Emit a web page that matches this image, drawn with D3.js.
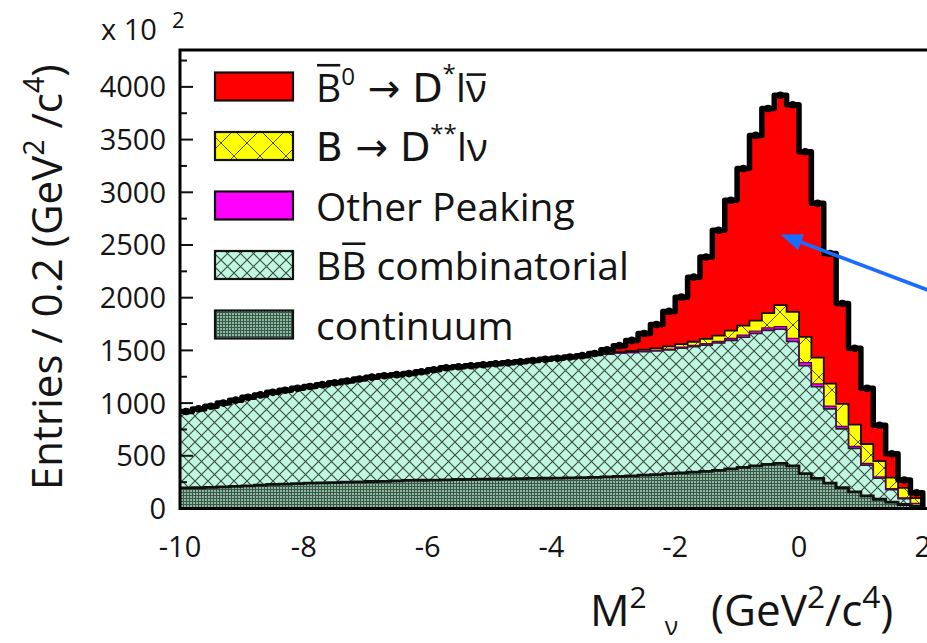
<!DOCTYPE html>
<html>
<head>
<meta charset="utf-8">
<script src="https://cdn.jsdelivr.net/npm/d3@7"></script>
<style>
  html, body { margin: 0; padding: 0; background: #ffffff; }
  svg { display: block; }
  text { font-family: "Open Sans", "Noto Sans", "DejaVu Sans", sans-serif; fill: #141414; white-space: pre; }
</style>
</head>
<body>
<svg id="chart" width="927" height="643"></svg>
<script>
// ---- Histogram bins: 60 bins of 0.2 GeV^2/c^4 from -10 to 2 ----
const binWidth = 0.2;
const binLow = d3.range(60).map(i => +(-10 + i * binWidth).toFixed(1));

// Observed entries per bin
const dataCounts = [
  920, 945, 970, 1000, 1028, 1055, 1078, 1102, 1122, 1140,
  1158, 1175, 1193, 1210, 1228, 1246, 1260, 1270, 1280, 1298,
  1316, 1335, 1345, 1355, 1364, 1373, 1382, 1392, 1403, 1415,
  1425, 1437, 1450, 1470, 1505, 1545, 1595, 1660, 1745, 1870,
  2005, 2195, 2385, 2640, 2925, 3225, 3540, 3795, 3920, 3830,
  3385, 2895, 2420, 1945, 1520, 1140, 790, 520, 270, 150
];

// Fit components (stacked bottom to top)
const continuum = [
  195, 197, 200, 205, 210, 215, 222, 228, 232, 236,
  240, 243, 246, 250, 252, 256, 258, 262, 266, 268,
  270, 272, 275, 276, 278, 280, 282, 284, 286, 287,
  288, 290, 292, 296, 300, 305, 310, 316, 322, 330,
  338, 345, 352, 362, 375, 390, 405, 418, 428, 405,
  330, 285, 240, 198, 158, 120, 88, 60, 38, 20
];
const bbCombinatorial = [
  725, 748, 770, 795, 818, 840, 856, 874, 890, 904,
  918, 932, 947, 960, 976, 990, 1002, 1008, 1014, 1030,
  1046, 1063, 1070, 1079, 1086, 1093, 1100, 1108, 1117, 1128,
  1137, 1147, 1158, 1159, 1165, 1170, 1170, 1171, 1172, 1175,
  1182, 1190, 1198, 1208, 1220, 1235, 1255, 1272, 1272, 1180,
  1025, 870, 705, 557, 412, 291, 199, 118, 56, 25
];
const otherPeaking = [
  0, 0, 0, 0, 0, 0, 0, 0, 0, 0,
  0, 0, 0, 0, 0, 0, 0, 0, 0, 0,
  0, 0, 0, 0, 0, 0, 0, 0, 0, 0,
  0, 0, 0, 0, 0, 0, 0, 3, 6, 8,
  10, 12, 14, 16, 18, 20, 22, 24, 25, 30,
  29, 27, 25, 23, 20, 16, 13, 10, 6, 3
];
const dssLnu = [
  0, 0, 0, 0, 0, 0, 0, 0, 0, 0,
  0, 0, 0, 0, 0, 0, 0, 0, 0, 0,
  0, 0, 0, 0, 0, 0, 0, 0, 0, 0,
  0, 0, 0, 3, 5, 8, 12, 16, 20, 25,
  30, 35, 45, 55, 75, 90, 100, 140, 205, 250,
  245, 250, 215, 215, 205, 185, 150, 105, 95, 50
];
const dstarLnu = [
  0, 0, 0, 0, 0, 0, 0, 0, 0, 0,
  0, 0, 0, 0, 0, 0, 0, 0, 0, 0,
  0, 0, 0, 0, 0, 0, 0, 0, 0, 0,
  0, 0, 0, 12, 35, 62, 103, 154, 225, 332,
  445, 613, 776, 999, 1237, 1490, 1758, 1941, 1990, 1965,
  1756, 1463, 1235, 952, 725, 528, 340, 227, 75, 52
];

// Axis ticks
const yTickValues = [0, 500, 1000, 1500, 2000, 2500, 3000, 3500, 4000];
const yMinorValues = [250, 750, 1250, 1750, 2250, 2750, 3250, 3750, 4250];
const xTickValues = [-10, -8, -6, -4, -2, 0, 2];

// ---- Layout ----
const svg = d3.select("#chart");
const W = 927, H = 643;
const plot = { left: 180, top: 50, bottom: 508.5 };

const x = d3.scaleLinear().domain([-10, 2.5]).range([plot.left, plot.left + 12.5 * 61.9]);
const y = d3.scaleLinear().domain([0, 4350]).range([plot.bottom, plot.top]);

// ---- Fill patterns ----
const defs = svg.append("defs");

// B-Bbar combinatorial: mint with fine diagonal cross-hatch
const pBB = defs.append("pattern").attr("id", "hatchBB")
  .attr("patternUnits", "userSpaceOnUse").attr("width", 13).attr("height", 13);
pBB.append("rect").attr("width", 13).attr("height", 13).attr("fill", "#bff7e0");
pBB.append("path").attr("d", "M0,0L13,13M13,0L0,13")
  .attr("stroke", "#3a4a43").attr("stroke-width", 1.1).attr("fill", "none");

// B -> D** l nu: yellow with wide cross-hatch
const pY = defs.append("pattern").attr("id", "hatchY")
  .attr("patternUnits", "userSpaceOnUse").attr("width", 26).attr("height", 26);
pY.append("rect").attr("width", 26).attr("height", 26).attr("fill", "#ffff00");
pY.append("path").attr("d", "M0,0L26,26M26,0L0,26")
  .attr("stroke", "#555500").attr("stroke-width", 1).attr("fill", "none");

// continuum: dark green mesh
const pC = defs.append("pattern").attr("id", "meshC")
  .attr("patternUnits", "userSpaceOnUse").attr("width", 3).attr("height", 3);
pC.append("rect").attr("width", 3).attr("height", 3).attr("fill", "#8fb8a1");
pC.append("path").attr("d", "M0,0.5H3M0.5,0V3")
  .attr("stroke", "#3a5848").attr("stroke-width", 1).attr("fill", "none");

defs.append("clipPath").attr("id", "plotClip")
  .append("rect").attr("x", plot.left).attr("y", plot.top)
  .attr("width", W - plot.left + 40).attr("height", plot.bottom - plot.top);

// ---- Stack the components ----
const keys = ["cont", "bb", "other", "dss", "dstar"];
const rows = binLow.map((lo, i) => ({
  lo,
  cont: continuum[i], bb: bbCombinatorial[i], other: otherPeaking[i],
  dss: dssLnu[i], dstar: dstarLnu[i]
}));
const stacked = d3.stack().keys(keys)(rows);

// Expand each bin to its two edges so the area draws as a histogram
function stepPoints(layer) {
  const pts = [];
  layer.forEach(d => {
    pts.push({ x: d.data.lo, y0: d[0], y1: d[1] });
    pts.push({ x: d.data.lo + binWidth, y0: d[0], y1: d[1] });
  });
  return pts;
}
const area = d3.area().x(d => x(d.x)).y0(d => y(d.y0)).y1(d => y(d.y1));
const topLine = d3.line().x(d => x(d.x)).y(d => y(d.y1));

const fills = { cont: "url(#meshC)", bb: "url(#hatchBB)", other: "#ff00ff", dss: "url(#hatchY)", dstar: "#ff0000" };
const edges = { cont: ["#111", 2.8], bb: ["#222", 1.6], other: ["#5a0060", 1.3], dss: ["#111", 1.8], dstar: null };

// x ticks (sit beneath the fills)
const gx = svg.append("g");
gx.selectAll("line.xt").data(xTickValues).join("line")
  .attr("x1", d => x(d)).attr("x2", d => x(d))
  .attr("y1", plot.bottom).attr("y2", plot.bottom - 13)
  .attr("stroke", "#111").attr("stroke-width", 2);

const gPlot = svg.append("g").attr("clip-path", "url(#plotClip)");
stacked.forEach(layer => {
  const pts = stepPoints(layer);
  gPlot.append("path").attr("d", area(pts)).attr("fill", fills[layer.key]).attr("stroke", "none");
});
stacked.forEach(layer => {
  const e = edges[layer.key];
  if (!e) return;
  const pts = stepPoints(layer);
  gPlot.append("path").attr("d", topLine(pts)).attr("fill", "none")
    .attr("stroke", e[0]).attr("stroke-width", e[1]);
});

// Observed data: heavy black histogram outline with markers
const dataPts = [];
binLow.forEach((lo, i) => {
  dataPts.push({ x: lo, y1: dataCounts[i] });
  dataPts.push({ x: lo + binWidth, y1: dataCounts[i] });
});
dataPts.push({ x: binLow[binLow.length - 1] + binWidth, y1: 0 });
gPlot.append("path").attr("d", topLine(dataPts)).attr("fill", "none")
  .attr("stroke", "#000").attr("stroke-width", 5.5).attr("stroke-linejoin", "round");
gPlot.selectAll("circle.pt").data(binLow).join("circle")
  .attr("cx", (d) => x(d + binWidth / 2)).attr("cy", (d, i) => y(dataCounts[i]))
  .attr("r", 3.8).attr("fill", "#000");

// ---- Frame and y axis ticks ----
const gy = svg.append("g");
gy.selectAll("line.maj").data(yTickValues).join("line")
  .attr("x1", plot.left).attr("x2", plot.left + 13)
  .attr("y1", d => y(d)).attr("y2", d => y(d))
  .attr("stroke", "#111").attr("stroke-width", 2);
gy.selectAll("line.min").data(yMinorValues).join("line")
  .attr("x1", plot.left).attr("x2", plot.left + 7)
  .attr("y1", d => y(d)).attr("y2", d => y(d))
  .attr("stroke", "#111").attr("stroke-width", 2);

svg.append("path")
  .attr("d", `M${W + 5},${plot.top}H${plot.left}V${plot.bottom}H${W + 5}`)
  .attr("fill", "none").attr("stroke", "#000").attr("stroke-width", 3);

// tick labels
gy.selectAll("text").data(yTickValues).join("text")
  .attr("x", 166).attr("y", d => y(d) + 10.5)
  .attr("text-anchor", "end").attr("font-size", 29).text(d => d);
gx.selectAll("text").data(xTickValues).join("text")
  .attr("x", d => x(d)).attr("y", 556.5)
  .attr("text-anchor", "middle").attr("font-size", 29).text(d => d);

// ---- Rich text helper: superscripts, subscripts, overlines ----
function richText(parent, px, py, fs, segs, anchor) {
  const t = parent.append("text").attr("x", px).attr("y", py)
    .attr("font-size", fs).attr("text-anchor", anchor || "start");
  let cur = 0, idx = 0;
  const overs = [];
  segs.forEach(s => {
    const target = (s.shift || 0) * fs;
    const ts = t.append("tspan").text(s.t).attr("dy", target - cur);
    if (s.size) ts.attr("font-size", s.size * fs);
    if (s.dx) ts.attr("dx", s.dx);
    if (s.family) ts.attr("font-family", s.family);
    cur = target;
    if (s.over) overs.push({ start: idx, len: s.t.length, lift: s.over });
    idx += s.t.length;
  });
  const node = t.node();
  overs.forEach(o => {
    const a = node.getExtentOfChar(o.start);
    const b = node.getExtentOfChar(o.start + o.len - 1);
    parent.append("line")
      .attr("x1", a.x + 1).attr("x2", b.x + b.width - 1)
      .attr("y1", py - o.lift * fs).attr("y2", py - o.lift * fs)
      .attr("stroke", "#141414").attr("stroke-width", 2.6);
  });
  return t;
}

// ---- Legend ----
const legendItems = [
  { fill: "#ff0000", segs: [
      { t: "B", over: 0.93 }, { t: "0", shift: -0.42, size: 0.62 },
      { t: " → D", family: "DejaVu Sans" }, { t: "*", shift: -0.5, size: 0.62 },
      { t: "l" }, { t: "ν", over: 0.69 } ] },
  { fill: "url(#hatchY)", segs: [
      { t: "B → D", family: "DejaVu Sans" }, { t: "**", shift: -0.5, size: 0.62 },
      { t: "lν" } ] },
  { fill: "#ff00ff", segs: [{ t: "Other Peaking" }] },
  { fill: "url(#hatchBB)", segs: [{ t: "B" }, { t: "B", over: 0.93 }, { t: " combinatorial" }] },
  { fill: "url(#meshC)", segs: [{ t: "continuum" }] }
];
const legendRowY = d3.scalePoint().domain(d3.range(legendItems.length)).range([86.5, 324.5]);
const gLeg = svg.append("g");
legendItems.forEach((item, i) => {
  const cy = legendRowY(i);
  gLeg.append("rect").attr("x", 215).attr("y", cy - 14).attr("width", 78).attr("height", 28)
    .attr("fill", item.fill).attr("stroke", "#111").attr("stroke-width", 2.2);
  richText(gLeg, 316, cy + 15, 39, item.segs);
});

// ---- Axis titles ----
richText(svg, 101, 40, 29, [{ t: "x 10" }]);
richText(svg, 172, 28, 22, [{ t: "2" }]);

const gYT = svg.append("g").attr("transform", "translate(62,490) rotate(-90)");
richText(gYT, 0, 0, 42, [
  { t: "Entries / 0.2 (GeV" }, { t: "2", shift: -0.42, size: 0.68 },
  { t: " /c" }, { t: "4", shift: -0.42, size: 0.68 }, { t: ")" }
]);

richText(svg, 590, 626, 44, [
  { t: "M" }, { t: "2", shift: -0.42, size: 0.68 },
  { t: "ν", shift: 0.2, size: 0.56, dx: 18 },
  { t: "(GeV", dx: 33 }, { t: "2", shift: -0.42, size: 0.72 },
  { t: "/c" }, { t: "4", shift: -0.42, size: 0.72 }, { t: ")" }
]);

// ---- Annotation arrow pointing at the D* l nu peak ----
const tip = [x(-0.3), y(2600)], tail = [x(2.5), y(1980)];
const ang = Math.atan2(tip[1] - tail[1], tip[0] - tail[0]);
const headLen = 22, headHalf = 8.5;
const base = [tip[0] - headLen * Math.cos(ang), tip[1] - headLen * Math.sin(ang)];
svg.append("line").attr("x1", tail[0]).attr("y1", tail[1]).attr("x2", base[0]).attr("y2", base[1])
  .attr("stroke", "#1a6cff").attr("stroke-width", 3.6);
svg.append("polygon")
  .attr("points", [
    tip,
    [base[0] + headHalf * Math.sin(ang), base[1] - headHalf * Math.cos(ang)],
    [base[0] - headHalf * Math.sin(ang), base[1] + headHalf * Math.cos(ang)]
  ].map(p => p.join(",")).join(" "))
  .attr("fill", "#1a6cff");
</script>
</body>
</html>
